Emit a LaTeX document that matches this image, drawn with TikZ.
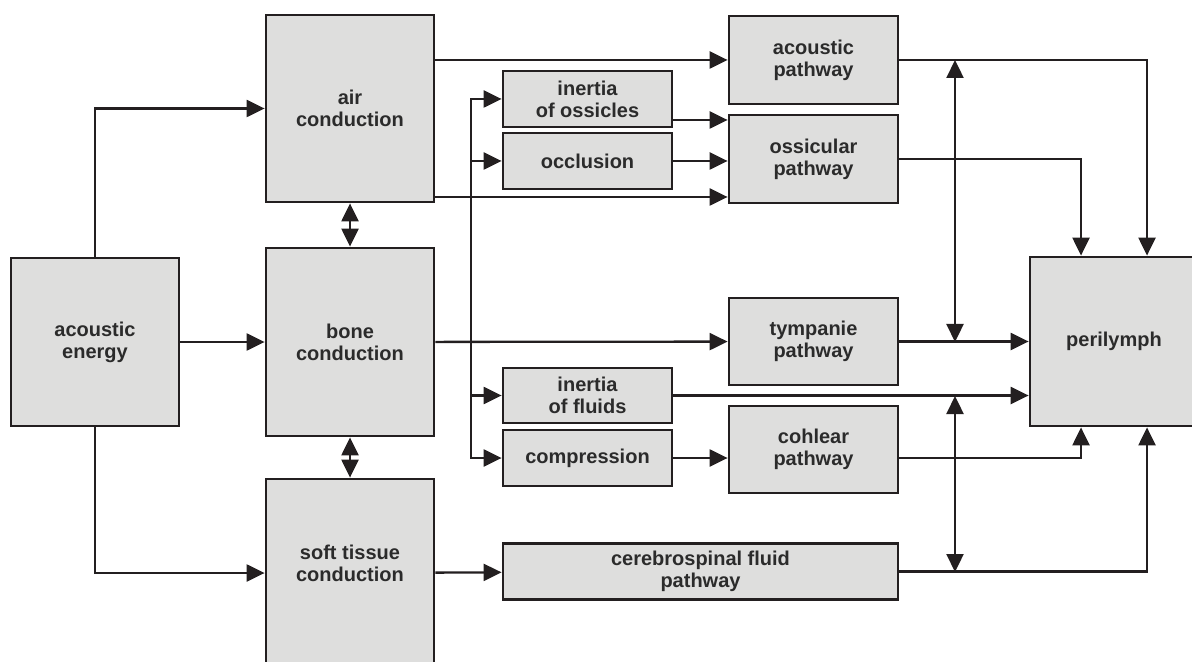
\documentclass[tikz,border=0pt]{standalone}
\usepackage{fontspec}
\setmainfont{Liberation Sans}
\usetikzlibrary{arrows.meta,calc}
\definecolor{boxgrey}{HTML}{DEDEDD}
\definecolor{lineblk}{HTML}{231F20}
\definecolor{txtgrey}{HTML}{2B2B2B}

\begin{document}
\begin{tikzpicture}[x=0.5pt,y=-0.5pt,
  blk/.style={draw=lineblk,fill=boxgrey,line width=1.4pt,align=center,inner sep=0pt,
    text=txtgrey,font=\fontsize{10}{11}\selectfont\bfseries},
  con/.style={draw=lineblk,line width=1.15pt,-{Triangle[length=9pt,width=8.5pt]}},
  dbl/.style={draw=lineblk,line width=1.15pt,{Triangle[length=9pt,width=8.5pt]}-{Triangle[length=9pt,width=8.5pt]}}]
  \useasboundingbox (0,0) rectangle (1192,662);
  \clip (0,0) rectangle (1192,662);
  \node[blk,minimum width=84pt,minimum height=84pt] (energy) at (95,342) {acoustic\\energy};
  \node[blk,minimum width=84pt,minimum height=93.5pt] (air) at (350,108.5) {air\\conduction};
  \node[blk,minimum width=84pt,minimum height=94pt] (bone) at (350,342) {bone\\conduction};
  \node[blk,minimum width=84pt,minimum height=94pt,text depth=10pt] (soft) at (350,573) {soft tissue\\conduction};
  \node[blk,minimum width=84.5pt,minimum height=28pt] (inoss) at (587.5,99) {inertia\\of ossicles};
  \node[blk,minimum width=84.5pt,minimum height=28pt] (occl) at (587.5,161) {occlusion};
  \node[blk,minimum width=84.5pt,minimum height=27.5pt] (influid) at (587.5,395.5) {inertia\\of fluids};
  \node[blk,minimum width=84.5pt,minimum height=28pt] (compr) at (587.5,458) {compression};
  \node[blk,minimum width=197.5pt,minimum height=28pt] (csf) at (700.5,571.5) {cerebrospinal fluid\\pathway};
  \node[blk,minimum width=84.5pt,minimum height=44pt] (acpath) at (813.5,60) {acoustic\\pathway};
  \node[blk,minimum width=84.5pt,minimum height=44pt] (ospath) at (813.5,159) {ossicular\\pathway};
  \node[blk,minimum width=84.5pt,minimum height=43.5pt] (tympath) at (813.5,341.5) {tympanie\\pathway};
  \node[blk,minimum width=84.5pt,minimum height=43.5pt] (cohpath) at (813.5,449.5) {cohlear\\pathway};
  \node[blk,minimum width=84pt,minimum height=84.5pt] (peri) at (1114,341.5) {perilymph};
  \coordinate (split) at (471,342);
  \coordinate (osout) at (672,120);
  \coordinate (airlow) at (434,197);
  \coordinate (vtop) at (955,60);
  \coordinate (vmid) at (955,342);
  \coordinate (vlow) at (955,396);
  \coordinate (vbot) at (955,572);
  \draw[con] (energy.north) |- (air);
  \draw[con] (energy) -- (bone);
  \draw[con] (energy.south) |- (soft);
  \draw[dbl] (air) -- (bone);
  \draw[dbl] (bone) -- (soft);
  \draw[con] (air.east |- acpath) -- (acpath);
  \draw[con] (airlow) -- (airlow -| ospath.west);
  \draw[con] (osout) -- (osout -| ospath.west);
  \draw[con] (occl) -- (occl -| ospath.west);
  \draw[con] (bone) -- (tympath);
  \draw[con] (split) |- (inoss);
  \draw[con] (split) |- (occl);
  \draw[con] (split) |- (influid);
  \draw[con] (split) |- (compr);
  \draw[con] (compr) -- (compr -| cohpath.west);
  \draw[con] (soft) -- (csf);
  \draw[con] (acpath) -| ($(peri.north)+(33,0)$);
  \draw[con] (ospath) -| ($(peri.north)+(-33,0)$);
  \draw[con] (tympath) -- (peri);
  \draw[con] (influid) -- (influid -| peri.west);
  \draw[con] (compr -| cohpath.east) -| ($(peri.south)+(-33,0)$);
  \draw[con] (csf) -| ($(peri.south)+(33,0)$);
  \draw[dbl] (vtop) -- (vmid);
  \draw[dbl] (vlow) -- (vbot);
\end{tikzpicture}
\end{document}
